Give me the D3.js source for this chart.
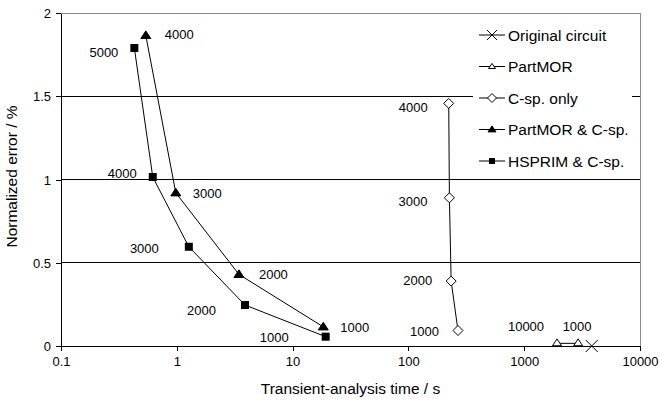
<!DOCTYPE html>
<html>
<head>
<meta charset="utf-8">
<script src="https://cdn.jsdelivr.net/npm/d3@7"></script>
<style>
  body { margin: 0; background: #fff; }
  svg { font-family: "Liberation Sans", Arial, sans-serif; }
</style>
</head>
<body>
<div id="chart"></div>
<script>
// data
var xTicks = [0.1, 1, 10, 100, 1000, 10000];
var yTicks = [0, 0.5, 1, 1.5, 2];

var seriesNames = ["Original circuit", "PartMOR", "C-sp. only", "PartMOR & C-sp.", "HSPRIM & C-sp."];

var originalTime = [3830];
var originalError = [0];
var originalLabels = [""];

var partmorTime = [1920, 2920];
var partmorError = [0.016, 0.016];
var partmorLabels = ["10000", "1000"];

var cspTime = [223, 226, 234, 268];
var cspError = [1.457, 0.89, 0.39, 0.093];
var cspLabels = ["4000", "3000", "2000", "1000"];

var pmCspTime = [0.54, 0.98, 3.44, 18.4];
var pmCspError = [1.865, 0.92, 0.43, 0.115];
var pmCspLabels = ["4000", "3000", "2000", "1000"];

var hsCspTime = [0.43, 0.62, 1.27, 3.88, 19.3];
var hsCspError = [1.79, 1.015, 0.596, 0.246, 0.056];
var hsCspLabels = ["5000", "4000", "3000", "2000", "1000"];

// label placement (style, pixels relative to the marker)
var labelPlacement = {
    "PartMOR": { anchor: "middle", off: [[-31, -12], [-1, -12]] },
    "C-sp. only": { anchor: "end", off: [[-21, 9], [-22, 8], [-19, 4], [-19, 5]] },
    "PartMOR & C-sp.": { anchor: "start", off: [[19, 4], [17, 5.5], [20, 5], [17, 5.5]] },
    "HSPRIM & C-sp.": { anchor: "end", off: [[-16, 9], [-16, 0.5], [-30, 6], [-29, 9.5], [-37, 5]] }
};

var series = [
    { name: seriesNames[0], marker: "cross", t: originalTime, e: originalError, lab: originalLabels },
    { name: seriesNames[1], marker: "triOpen", t: partmorTime, e: partmorError, lab: partmorLabels },
    { name: seriesNames[2], marker: "diamond", t: cspTime, e: cspError, lab: cspLabels },
    { name: seriesNames[3], marker: "triFill", t: pmCspTime, e: pmCspError, lab: pmCspLabels },
    { name: seriesNames[4], marker: "square", t: hsCspTime, e: hsCspError, lab: hsCspLabels }
].map(s => ({
    name: s.name,
    marker: s.marker,
    values: s.t.map((t, i) => ({ time: t, err: s.e[i], label: s.lab[i] }))
}));

function drawChart() {
    var w = 662, h = 405;
    var left = 61, right = 640, top = 13, bottom = 346;

    var svg = d3.select("#chart").append("svg")
        .attr("width", w)
        .attr("height", h);

    var x = d3.scaleLog().domain([0.1, 10000]).range([left, right]);
    var y = d3.scaleLinear().domain([0, 2]).range([bottom, top]);

    // grid lines
    svg.selectAll(".grid")
        .data([0.5, 1, 1.5])
        .enter()
        .append("line")
        .attr("x1", left).attr("x2", right)
        .attr("y1", d => y(d)).attr("y2", d => y(d))
        .attr("stroke", "#000")
        .attr("stroke-width", 1)
        .attr("shape-rendering", "crispEdges");

    // top and right frame
    svg.append("path")
        .attr("d", `M${left},${y(2)}H${right}V${bottom}`)
        .attr("fill", "none")
        .attr("stroke", "#8c8c8c")
        .attr("stroke-width", 1)
        .attr("shape-rendering", "crispEdges");

    // axes
    var xAxis = svg.append("g")
        .attr("transform", `translate(0,${bottom})`)
        .call(d3.axisBottom(x).tickValues(xTicks).tickFormat(d => String(d)).tickSize(5).tickSizeOuter(0));
    var yAxis = svg.append("g")
        .attr("transform", `translate(${left},0)`)
        .call(d3.axisLeft(y).tickValues(yTicks).tickFormat(d => String(d)).tickSize(5).tickSizeOuter(0));

    [xAxis, yAxis].forEach(a => {
        a.selectAll("path, line").attr("stroke", "#000").attr("shape-rendering", "crispEdges");
        a.selectAll("text").attr("fill", "#000").style("font-size", "13px").style("font-family", "Liberation Sans, Arial, sans-serif");
    });
    xAxis.selectAll("text").attr("dy", "0.71em").attr("y", 11);
    yAxis.selectAll("text").attr("x", -10).attr("dy", "0.36em");

    // axis titles
    svg.append("text")
        .attr("x", (left + right) / 2)
        .attr("y", 394)
        .attr("text-anchor", "middle")
        .style("font-size", "15.5px")
        .text("Transient-analysis time / s");

    svg.append("text")
        .attr("transform", `translate(17,${(top + bottom) / 2 - 3}) rotate(-90)`)
        .attr("text-anchor", "middle")
        .style("font-size", "15.5px")
        .text("Normalized error / %");

    // marker drawing
    function drawMarker(g, type, cx, cy, size) {
        if (type === "square") {
            g.append("rect")
                .attr("x", cx - size / 2).attr("y", cy - size / 2)
                .attr("width", size).attr("height", size)
                .attr("fill", "#000");
        } else if (type === "triFill" || type === "triOpen") {
            var hw = size / 2 + 0.5, ht = size * 0.85;
            g.append("path")
                .attr("d", `M${cx},${cy - ht * 0.6}L${cx + hw},${cy + ht * 0.4}L${cx - hw},${cy + ht * 0.4}Z`)
                .attr("fill", type === "triFill" ? "#000" : "#fff")
                .attr("stroke", "#000")
                .attr("stroke-width", 1);
        } else if (type === "diamond") {
            var r = size / 2 + 0.5;
            g.append("path")
                .attr("d", `M${cx},${cy - r}L${cx + r},${cy}L${cx},${cy + r}L${cx - r},${cy}Z`)
                .attr("fill", "#fff")
                .attr("stroke", "#000")
                .attr("stroke-width", 1);
        } else if (type === "cross") {
            var c = size / 2 + 1;
            g.append("path")
                .attr("d", `M${cx - c},${cy - c}L${cx + c},${cy + c}M${cx - c},${cy + c}L${cx + c},${cy - c}`)
                .attr("fill", "none")
                .attr("stroke", "#000")
                .attr("stroke-width", 1);
        }
    }

    var markerSize = { square: 8, triFill: 9, triOpen: 8, diamond: 9, cross: 10 };

    var line = d3.line()
        .x(d => x(d.time))
        .y(d => y(d.err));

    // lines
    svg.selectAll(".series-line")
        .data(series)
        .enter()
        .append("path")
        .attr("fill", "none")
        .attr("stroke", "#000")
        .attr("stroke-width", 1)
        .attr("d", d => line(d.values));

    // markers
    var mg = svg.append("g");
    series.forEach(s => {
        s.values.forEach(d => {
            var cy = y(d.err);
            if (s.marker === "triOpen") cy = y(0) - 3;
            drawMarker(mg, s.marker, x(d.time), cy, markerSize[s.marker]);
        });
    });

    // data labels
    series.forEach(s => {
        var p = labelPlacement[s.name];
        if (!p) return;
        svg.append("g").selectAll("text")
            .data(s.values)
            .enter()
            .append("text")
            .attr("x", (d, i) => x(d.time) + p.off[i][0])
            .attr("y", (d, i) => y(d.err) + p.off[i][1])
            .attr("text-anchor", p.anchor)
            .style("font-size", "13px")
            .text(d => d.label);
    });

    // legend
    var legend = svg.append("g");
    legend.append("rect")
        .attr("x", 473).attr("y", 18)
        .attr("width", 159).attr("height", 157)
        .attr("fill", "#fff");

    var legendSize = { square: 6, triFill: 7, triOpen: 6, diamond: 8, cross: 8 };
    series.forEach((s, i) => {
        var ly = 35 + i * 31.5;
        legend.append("line")
            .attr("x1", 479).attr("x2", 505)
            .attr("y1", ly).attr("y2", ly)
            .attr("stroke", "#000")
            .attr("stroke-width", 1);
        drawMarker(legend, s.marker, 492, ly, legendSize[s.marker]);
        legend.append("text")
            .attr("x", 508)
            .attr("y", ly + 5.5)
            .style("font-size", "15.5px")
            .text(s.name);
    });
}

window.onload = drawChart;
</script>
</body>
</html>
